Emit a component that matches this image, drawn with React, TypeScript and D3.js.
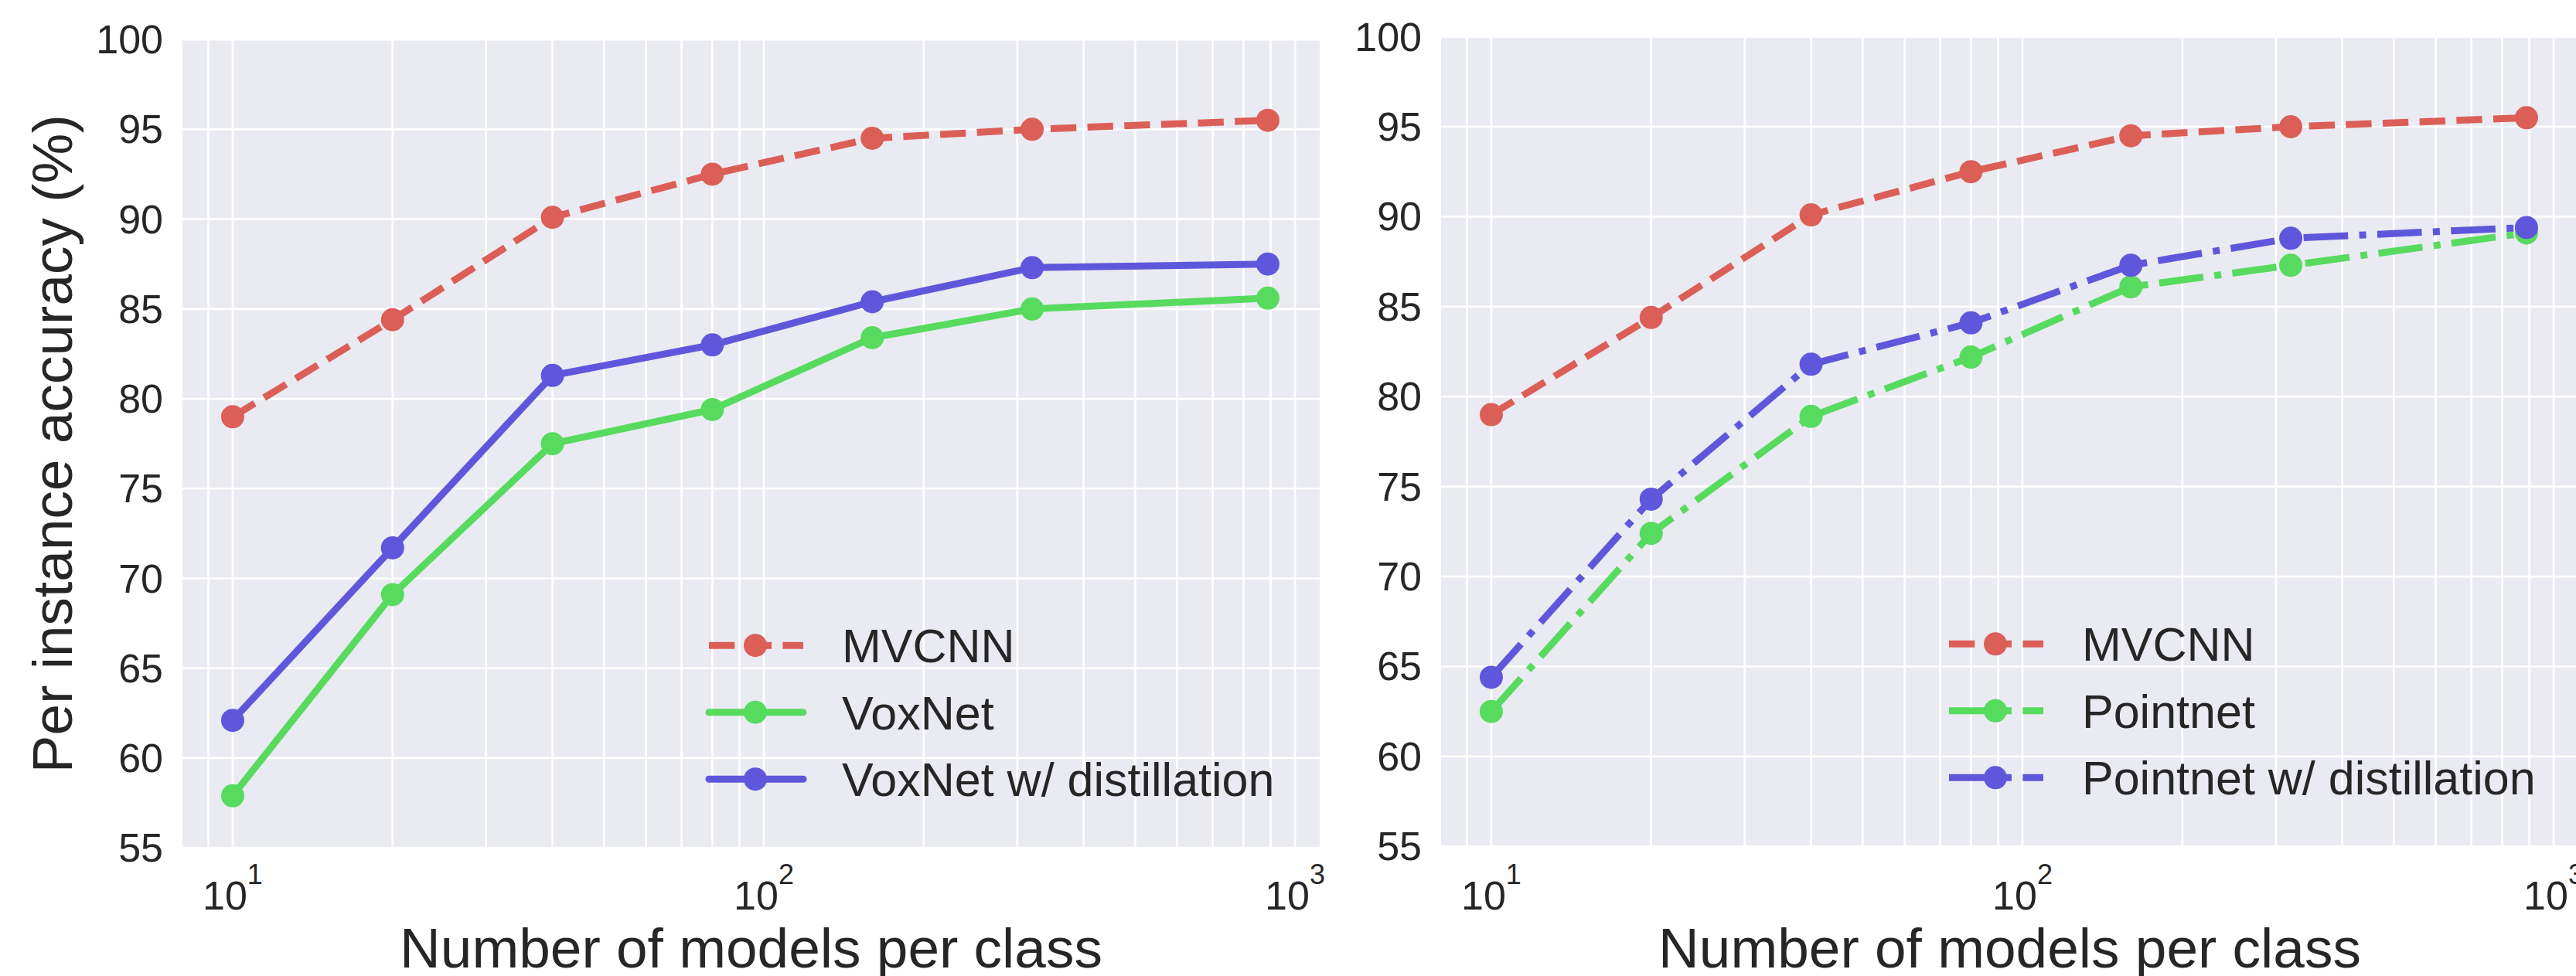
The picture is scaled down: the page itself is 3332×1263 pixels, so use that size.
import React from "react";
import * as d3 from "d3";

// ---------- data ----------
const X_VALUES = [10, 20, 40, 80, 160, 320, 889];
const MVCNN = [79.0, 84.4, 90.1, 92.5, 94.5, 95.0, 95.5];
const VOXNET = [57.9, 69.1, 77.5, 79.4, 83.4, 85.0, 85.6];
const VOXNET_DISTILL = [62.1, 71.7, 81.3, 83.0, 85.4, 87.3, 87.5];
const POINTNET = [62.5, 72.4, 78.9, 82.2, 86.1, 87.3, 89.1];
const POINTNET_DISTILL = [64.4, 74.3, 81.8, 84.1, 87.3, 88.8, 89.4];
const Y_TICKS = [55, 60, 65, 70, 75, 80, 85, 90, 95, 100];
const X_MAJOR = [10, 100, 1000];
const X_EXPONENTS = ["1", "2", "3"];
const LEFT_LABELS = ["MVCNN", "VoxNet", "VoxNet w/ distillation"];
const RIGHT_LABELS = ["MVCNN", "Pointnet", "Pointnet w/ distillation"];
const X_LABEL = "Number of models per class";
const Y_LABEL = "Per instance accuracy (%)";

// ---------- style ----------
const W = 3332;
const H = 1263;
const FONT = "'Liberation Sans', Arial, Helvetica, sans-serif";
const TEXT = "#262626";
const BG = "#eaeaf2";
const RED = "#db5f57";
const GREEN = "#57db5f";
const BLUE = "#5f57db";
const LW = 9;
const DASHED = `${3.7 * LW},${1.6 * LW}`;
const DASHDOT = `${6.4 * LW},${1.6 * LW},${1 * LW},${1.6 * LW}`;
const X_DOMAIN = [8.044, 1113];
const PLOT_W = 1471;

type Series = { label: string; values: number[]; color: string; dash: string | null };

function Panel(props: {
  left: number;
  top: number;
  bottom: number;
  series: Series[];
  legendX: number;
  showYLabel: boolean;
}) {
  const { left, top, bottom, series, legendX, showYLabel } = props;
  const x = d3.scaleLog().domain(X_DOMAIN).range([left, left + PLOT_W]);
  const y = d3.scaleLinear().domain([55, 100]).range([bottom, top]);
  const gridX = x.ticks();
  const line = d3
    .line<number>()
    .x((_, i) => x(X_VALUES[i]))
    .y((v) => y(v));
  const rows = [bottom - 262, bottom - 175.5, bottom - 89];
  const cx = left + PLOT_W / 2;

  return (
    <g>
      <defs>
        <clipPath id={`clip${left}`}>
          <rect x={left} y={top} width={PLOT_W} height={bottom - top} />
        </clipPath>
      </defs>
      <rect x={left} y={top} width={PLOT_W} height={bottom - top} fill={BG} />
      {gridX.map((t) => (
        <line key={`gx${t}`} x1={x(t)} x2={x(t)} y1={top} y2={bottom} stroke="#fff" strokeWidth={2.7} />
      ))}
      {Y_TICKS.map((t) => (
        <line key={`gy${t}`} x1={left} x2={left + PLOT_W} y1={y(t)} y2={y(t)} stroke="#fff" strokeWidth={2.7} />
      ))}
      <g clipPath={`url(#clip${left})`}>
        {series.map((s) => (
          <g key={s.label}>
            <path
              d={line(s.values) || ""}
              fill="none"
              stroke={s.color}
              strokeWidth={LW}
              strokeDasharray={s.dash || undefined}
              strokeLinejoin="round"
              strokeLinecap={s.dash ? "butt" : "round"}
            />
            {s.values.map((v, i) => (
              <circle key={i} cx={x(X_VALUES[i])} cy={y(v)} r={15} fill={s.color} />
            ))}
          </g>
        ))}
      </g>
      {/* legend */}
      {series.map((s, i) => (
        <g key={`lg${i}`}>
          <line
            x1={legendX}
            x2={legendX + 122}
            y1={rows[i]}
            y2={rows[i]}
            stroke={s.color}
            strokeWidth={LW}
            strokeDasharray={s.dash || undefined}
            strokeLinecap={s.dash ? "butt" : "round"}
          />
          <circle cx={legendX + 60} cy={rows[i]} r={15} fill={s.color} />
          <text x={legendX + 172} y={rows[i] + 22} fontSize={61} fill={TEXT} fontFamily={FONT}>
            {s.label}
          </text>
        </g>
      ))}
      {/* y tick labels */}
      {Y_TICKS.map((t) => (
        <text
          key={`yl${t}`}
          x={left - 25}
          y={y(t) + 18}
          textAnchor="end"
          fontSize={52}
          fill={TEXT}
          fontFamily={FONT}
        >
          {t}
        </text>
      ))}
      {/* x tick labels */}
      {X_MAJOR.map((t, i) => (
        <text key={`xl${t}`} x={x(t)} y={1177} textAnchor="middle" fontSize={52} fill={TEXT} fontFamily={FONT}>
          10
          <tspan fontSize={36} dy={-33}>
            {X_EXPONENTS[i]}
          </tspan>
        </text>
      ))}
      <text x={cx} y={1252} textAnchor="middle" fontSize={73} fill={TEXT} fontFamily={FONT}>
        {X_LABEL}
      </text>
      {showYLabel && (
        <text
          transform={`translate(93, ${(top + bottom) / 2}) rotate(-90)`}
          textAnchor="middle"
          fontSize={73}
          fill={TEXT}
          fontFamily={FONT}
        >
          {Y_LABEL}
        </text>
      )}
    </g>
  );
}

export default function App() {
  const leftSeries: Series[] = [
    { label: LEFT_LABELS[0], values: MVCNN, color: RED, dash: DASHED },
    { label: LEFT_LABELS[1], values: VOXNET, color: GREEN, dash: null },
    { label: LEFT_LABELS[2], values: VOXNET_DISTILL, color: BLUE, dash: null },
  ];
  const rightSeries: Series[] = [
    { label: RIGHT_LABELS[0], values: MVCNN, color: RED, dash: DASHED },
    { label: RIGHT_LABELS[1], values: POINTNET, color: GREEN, dash: DASHDOT },
    { label: RIGHT_LABELS[2], values: POINTNET_DISTILL, color: BLUE, dash: DASHDOT },
  ];
  return (
    <svg
      width={W}
      height={H}
      viewBox={`0 0 ${W} ${H}`}
      style={{ position: "fixed", left: 0, top: 0, background: "#fff", display: "block" }}
    >
      <rect x={0} y={0} width={W} height={H} fill="#fff" />
      <Panel left={236} top={51.1} bottom={1097.2} series={leftSeries} legendX={917} showYLabel={true} />
      <Panel left={1864} top={47.6} bottom={1095.3} series={rightSeries} legendX={2521} showYLabel={false} />
    </svg>
  );
}
